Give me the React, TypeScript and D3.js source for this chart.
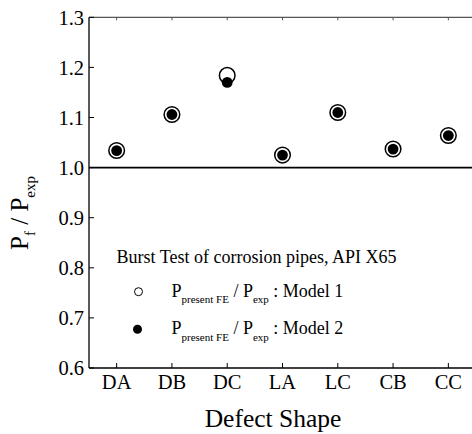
import React from "react";
import * as d3 from "d3";

const categories = ["DA", "DB", "DC", "LA", "LC", "CB", "CC"];
const model1 = [1.034, 1.106, 1.184, 1.025, 1.110, 1.037, 1.064];
const model2 = [1.034, 1.106, 1.170, 1.025, 1.110, 1.037, 1.064];
const yTicks = [0.6, 0.7, 0.8, 0.9, 1.0, 1.1, 1.2, 1.3];

const W = 472, H = 434;
const left = 89, top = 17.3, bottom = 368, right = 476;
const FONT = "'Liberation Serif', 'Times New Roman', serif";

export default function App() {
  const x = d3.scaleLinear().domain([0.5, categories.length + 0.5]).range([left, right]);
  const y = d3.scaleLinear().domain([0.6, 1.3]).range([bottom, top]);
  return (
    <svg width={W} height={H} style={{ position: "absolute", left: 0, top: 0, background: "#fff" }} fontFamily={FONT}>
      {/* axes frame */}
      <line x1={left} x2={W} y1={y(1.3)} y2={y(1.3)} stroke="#555" strokeWidth={1.3} />
      <line x1={left} x2={W} y1={bottom} y2={bottom} stroke="#000" strokeWidth={1.3} />
      <line x1={left} x2={left} y1={top} y2={bottom} stroke="#000" strokeWidth={1.3} />
      {/* reference line */}
      <line x1={left} x2={W} y1={y(1.0)} y2={y(1.0)} stroke="#000" strokeWidth={1.6} />
      {/* y ticks */}
      {yTicks.map((t) => (
        <g key={t}>
          <line x1={left} x2={left + 5} y1={y(t)} y2={y(t)} stroke="#000" strokeWidth={1} />
          <text x={84} y={y(t)} dy="0.36em" textAnchor="end" fontSize={20.5}>{t.toFixed(1)}</text>
        </g>
      ))}
      {/* x ticks */}
      {categories.map((c, i) => (
        <g key={c}>
          <line x1={x(i + 1)} x2={x(i + 1)} y1={bottom} y2={bottom - 5} stroke="#000" strokeWidth={1} />
          <line x1={x(i + 1)} x2={x(i + 1)} y1={top} y2={top + 3} stroke="#555" strokeWidth={1} />
          <text x={x(i + 1)} y={bottom + 21} textAnchor="middle" fontSize={20.5}>{c}</text>
        </g>
      ))}
      {/* data */}
      {model1.map((v, i) => (
        <circle key={"m1" + i} cx={x(i + 1)} cy={y(v)} r={7.8} fill="#fff" stroke="#000" strokeWidth={1.5} />
      ))}
      {model2.map((v, i) => (
        <circle key={"m2" + i} cx={x(i + 1)} cy={y(v)} r={5.4} fill="#000" />
      ))}
      {/* legend */}
      <text x={116.5} y={262.7} fontSize={18}>Burst Test of corrosion pipes, API X65</text>
      <circle cx={138.5} cy={291.7} r={4} fill="#fff" stroke="#000" strokeWidth={1} />
      <circle cx={137.5} cy={329.3} r={4.5} fill="#000" />
      <text x={171.5} y={296.7} fontSize={18}>
        P<tspan fontSize={11} dy={6.6}>present FE</tspan>
        <tspan dy={-6.6}> / P</tspan>
        <tspan fontSize={11} dy={6.6}>exp</tspan>
        <tspan dy={-6.6}> : Model 1</tspan>
      </text>
      <text x={171.5} y={334.3} fontSize={18}>
        P<tspan fontSize={11} dy={6.6}>present FE</tspan>
        <tspan dy={-6.6}> / P</tspan>
        <tspan fontSize={11} dy={6.6}>exp</tspan>
        <tspan dy={-6.6}> : Model 2</tspan>
      </text>
      {/* axis titles */}
      <text x={273} y={427} textAnchor="middle" fontSize={25.5}>Defect Shape</text>
      <text transform="translate(28,213) rotate(-90)" textAnchor="middle" fontSize={25}>
        P<tspan fontSize={15} dy={7}>f</tspan>
        <tspan dy={-7}> / P</tspan>
        <tspan fontSize={15} dy={7}>exp</tspan>
      </text>
    </svg>
  );
}
